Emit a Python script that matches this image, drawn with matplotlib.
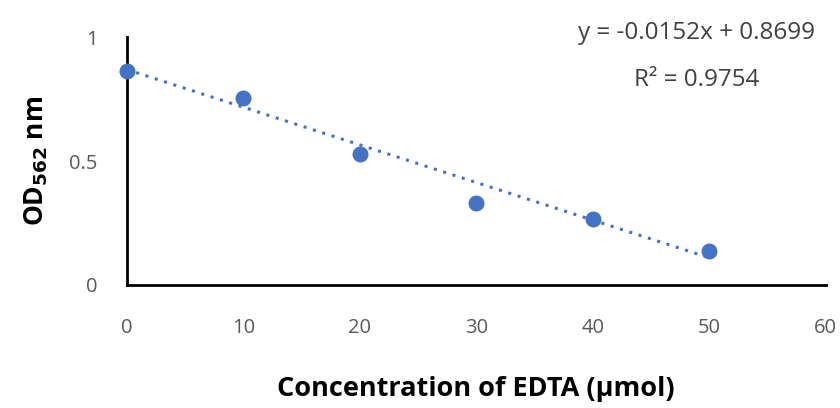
import matplotlib
matplotlib.use("Agg")
import matplotlib.pyplot as plt
import numpy as np

plt.rcParams['font.family'] = ['Open Sans', 'DejaVu Sans']

# data
edta = [0, 10, 20, 30, 40, 50]
od562 = [0.865, 0.757, 0.528, 0.331, 0.266, 0.137]
slope = -0.0152
intercept = 0.8699
r2 = 0.9754
xticks = [0, 10, 20, 30, 40, 50, 60]
yticks = [0, 0.5, 1]
yticklabels = ['0', '0.5', '1']

fig = plt.figure(figsize=(8.4, 4.08), dpi=100)
ax = fig.add_axes([0.151, 0.3015, 0.832, 0.607])

trend_x = np.array([edta[0], edta[-1]])
ax.plot(trend_x, slope * trend_x + intercept, color='#4472C4', linestyle=(0, (1, 2.2)),
        linewidth=2.2, zorder=2)
ax.scatter(edta, od562, s=110, color='#4472C4', zorder=3, clip_on=False)

ax.set_xlim(0, 60)
ax.set_ylim(0, 1)
ax.set_xticks(xticks)
ax.set_yticks(yticks)
ax.set_yticklabels(yticklabels)
ax.tick_params(axis='both', length=0, labelsize=14.5, colors='#595959')
ax.tick_params(axis='x', pad=24)
ax.tick_params(axis='y', pad=21)

for side in ['top', 'right']:
    ax.spines[side].set_visible(False)
for side in ['left', 'bottom']:
    ax.spines[side].set_linewidth(2)
    ax.spines[side].set_color('black')

ax.set_xlabel('Concentration of EDTA (µmol)', fontsize=19.5, fontweight='bold', labelpad=27)
ax.set_ylabel('OD$_{\\mathbf{562}}$ nm', fontsize=19, fontweight='bold', labelpad=14)

fig.text(0.829, 0.918, 'y = -0.0152x + 0.8699', fontsize=17.5, color='#404040',
         ha='center', va='center')
fig.text(0.829, 0.803, 'R² = %.4f' % r2, fontsize=17.5, color='#404040',
         ha='center', va='center')

plt.savefig('out.png', dpi=100)
